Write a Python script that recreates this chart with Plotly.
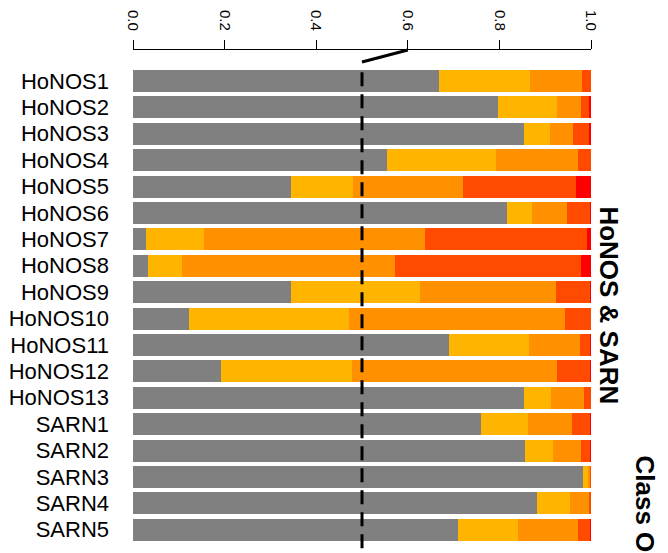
import plotly.graph_objects as go

# items, top to bottom
items = ['HoNOS1', 'HoNOS2', 'HoNOS3', 'HoNOS4', 'HoNOS5', 'HoNOS6', 'HoNOS7',
         'HoNOS8', 'HoNOS9', 'HoNOS10', 'HoNOS11', 'HoNOS12', 'HoNOS13',
         'SARN1', 'SARN2', 'SARN3', 'SARN4', 'SARN5']

# proportion of each score class per item
class_0 = [0.668, 0.797, 0.854, 0.555, 0.345, 0.816, 0.028, 0.033, 0.345,
           0.122, 0.690, 0.192, 0.854, 0.760, 0.856, 0.983, 0.882, 0.710]
class_1 = [0.198, 0.129, 0.057, 0.238, 0.135, 0.055, 0.127, 0.074, 0.282,
           0.350, 0.175, 0.286, 0.059, 0.102, 0.061, 0.011, 0.072, 0.131]
class_2 = [0.114, 0.052, 0.050, 0.179, 0.240, 0.076, 0.483, 0.465, 0.297,
           0.471, 0.111, 0.448, 0.072, 0.096, 0.061, 0.004, 0.042, 0.131]
class_3 = [0.020, 0.019, 0.035, 0.028, 0.247, 0.051, 0.353, 0.406, 0.074,
           0.057, 0.022, 0.072, 0.015, 0.040, 0.020, 0.002, 0.004, 0.026]
class_4 = [0.000, 0.003, 0.004, 0.000, 0.033, 0.002, 0.009, 0.022, 0.002,
           0.000, 0.002, 0.002, 0.000, 0.002, 0.002, 0.000, 0.000, 0.002]

class_names = ['0', '1', '2', '3', '4']
class_colors = ['#808080', '#FFB400', '#FF9100', '#FF4A00', '#FF0000']

tick_vals = [0.0, 0.2, 0.4, 0.6, 0.8, 1.0]
tick_text = ['0.0', '0.2', '0.4', '0.6', '0.8', '1.0']

font = 'Liberation Sans, Arial, Helvetica, sans-serif'

fig = go.Figure()
for name, vals, col in zip(class_names, [class_0, class_1, class_2, class_3, class_4], class_colors):
    fig.add_trace(go.Bar(
        y=items, x=vals, name=name, orientation='h',
        marker=dict(color=col, line=dict(width=0)),
        width=0.83, showlegend=False
    ))

# reference line at 0.5 and the little connector up to the axis
fig.add_shape(type='line', xref='x', yref='paper', x0=0.5, x1=0.5, y0=0.956, y1=-0.1,
              line=dict(color='black', width=3, dash='14px,8px'))
fig.add_shape(type='line', xref='x', yref='paper', x0=0.5, x1=0.6, y0=0.976, y1=1.0,
              line=dict(color='black', width=3))

fig.add_annotation(text='<b>HoNOS & SARN</b>', xref='paper', yref='y', x=1, y=8.5,
                   xshift=18, xanchor='center', yanchor='middle', textangle=90,
                   showarrow=False, font=dict(size=26, color='black', family=font))
fig.add_annotation(text='<b>Class Outcome</b>', xref='paper', yref='paper', x=1, y=0.1988,
                   xshift=54, xanchor='center', yanchor='top', textangle=90,
                   showarrow=False, font=dict(size=26, color='black', family=font))

# the page puts the plot 8px in from the top-left, so the figure is 8px smaller
fig.update_layout(
    barmode='stack',
    width=660, height=545,
    margin=dict(l=125, r=77, t=42, b=0, autoexpand=False),
    plot_bgcolor='white', paper_bgcolor='white',
    font=dict(family=font, color='black'),
    bargap=0,
)
fig.update_xaxes(side='top', range=[0, 1], showgrid=False, zeroline=False,
                 showline=True, linecolor='black', linewidth=1,
                 ticks='outside', ticklen=9, tickwidth=1, tickcolor='black',
                 tickvals=tick_vals, ticktext=tick_text, tickangle=90,
                 tickfont=dict(size=15), ticklabelstandoff=4, automargin=False)
fig.update_yaxes(range=[17.88, -1.174], showgrid=False, zeroline=False,
                 showline=False, ticks='', tickfont=dict(size=22),
                 tickmode='array', tickvals=items, ticktext=items,
                 ticklabelstandoff=23, automargin=False)

fig.write_html('out.html')
